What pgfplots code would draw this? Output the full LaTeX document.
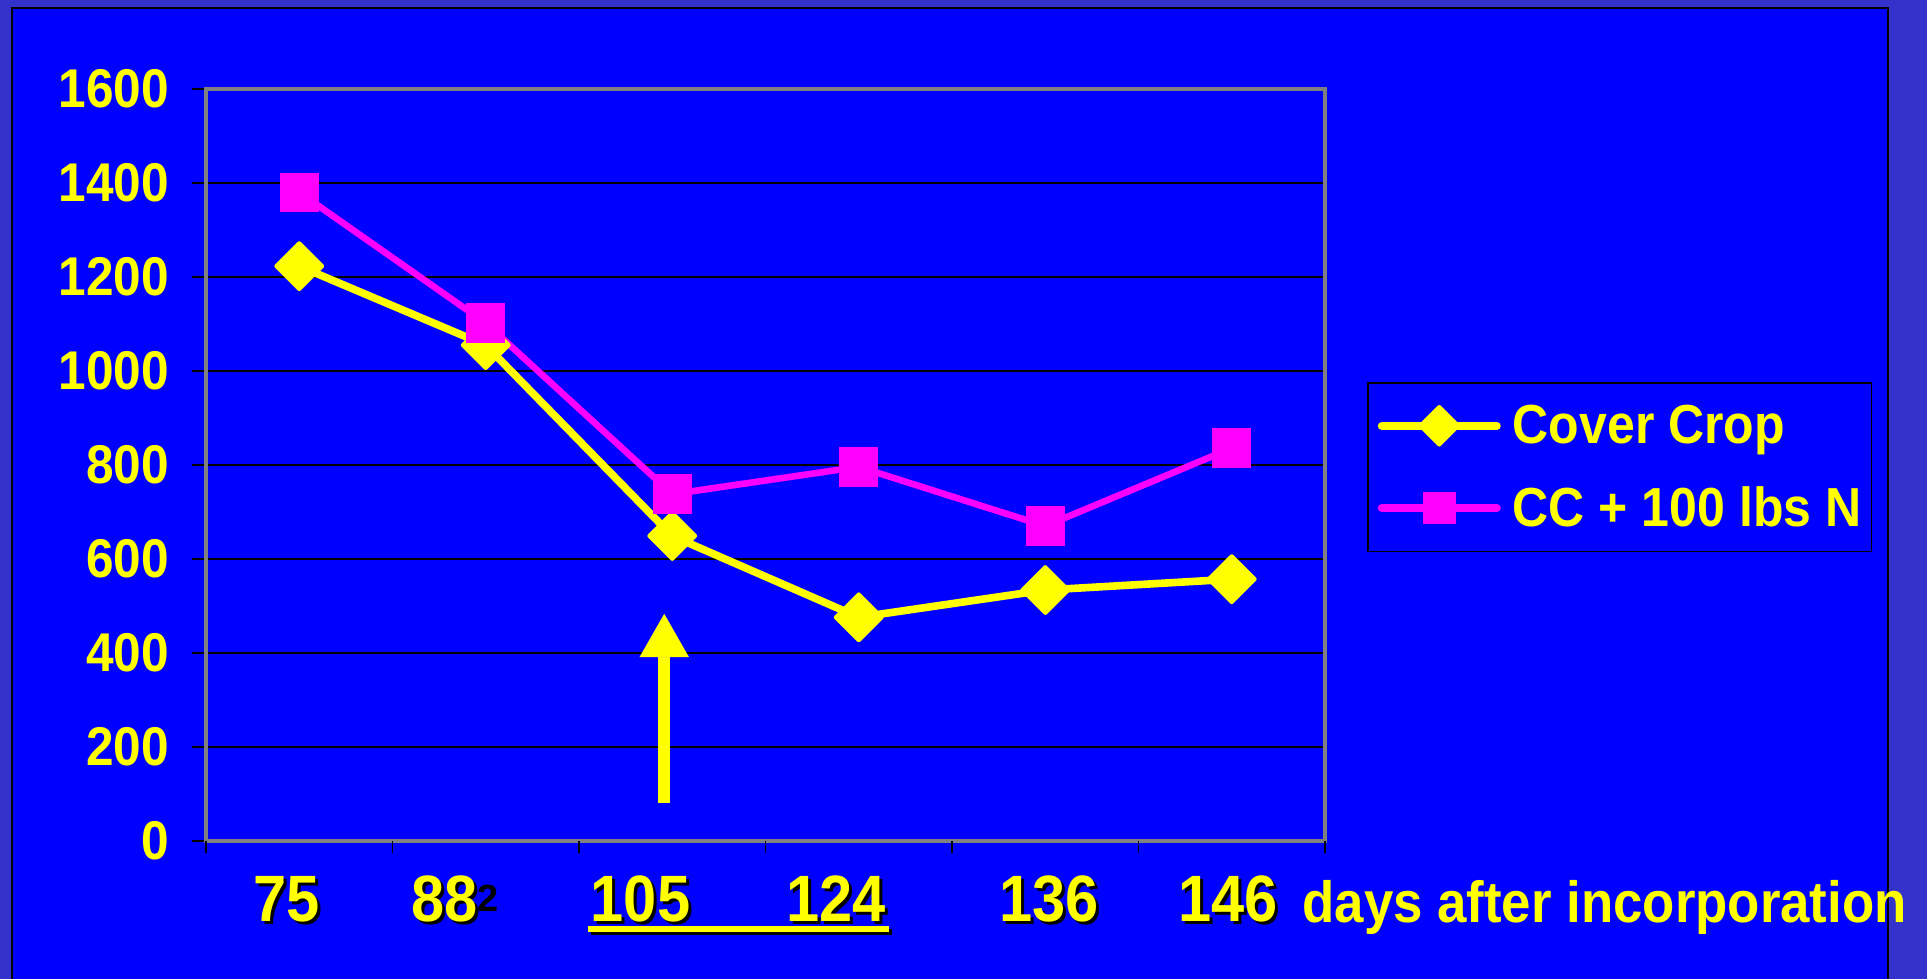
\documentclass[border=0pt]{standalone}
\usepackage{fontspec}
\setmainfont{Liberation Sans}
\usepackage{graphicx}
\usepackage{pgfplots}
\pgfplotsset{compat=1.18}
\usetikzlibrary{arrows.meta}
\definecolor{panelblue}{RGB}{0,0,255}
\definecolor{outerblue}{RGB}{51,51,204}
\definecolor{ylw}{RGB}{255,255,0}
\definecolor{mgt}{RGB}{255,0,255}
\definecolor{framegray}{RGB}{128,128,128}
\newcommand\vs[1]{\scalebox{1}[1.1]{#1}}
\newcommand\sh[1]{\makebox[0pt][l]{\kern1.5pt\raisebox{-1.5pt}{\textcolor{black}{#1}}}#1}
\newcommand\xl[1]{\scalebox{1}[1.1]{\sh{#1}}}
\begin{document}
\begin{tikzpicture}
\path[use as bounding box] (0,0) rectangle (963.5pt,489.5pt);
\fill[outerblue] (0,0) rectangle (963.5pt,489.5pt);
\filldraw[fill=panelblue, draw=black, line width=1pt] (6pt,-10pt) rectangle (944pt,485.5pt);
\begin{axis}[
  at={(103pt,69pt)}, anchor=south west,
  scale only axis, width=559.5pt, height=376pt,
  xmin=-0.5, xmax=5.5, ymin=0, ymax=1600,
  axis background/.style={fill=panelblue},
  axis line style={draw=framegray, line width=1.6pt},
  ytick={0,200,...,1600},
  ytick pos=left, xtick pos=bottom,
  yticklabels={\vs{0},\vs{200},\vs{400},\vs{600},\vs{800},\vs{1000},\vs{1200},\vs{1400},\vs{1600}},
  ymajorgrids, grid style={black, line width=0.7pt},
  xtick={-0.07,0.78,1.83,2.88,4.02,4.98},
  xticklabels={\xl{75},{\xl{88}\rlap{\textcolor{black}{\raisebox{4.5pt}{\fontsize{19pt}{19pt}\selectfont 2}}}},\xl{105},\xl{124},\xl{136},\xl{146}},
  tick align=outside, major tick length=7pt,
  tick style={black, line width=0.6pt},
  xtick style={draw=none},
  yticklabel style={font=\fontsize{24.8pt}{24.8pt}\selectfont\bfseries, text=ylw, xshift=-8pt},
  xticklabel style={font=\fontsize{29.8pt}{29.8pt}\selectfont\bfseries, text=ylw, anchor=base, yshift=-33pt},
  clip=false,
  legend style={at={(axis description cs:1.0375,0.610)}, anchor=north west,
    draw=black, line width=0.8pt, fill=panelblue, text=ylw,
    font=\fontsize{25pt}{25pt}\selectfont\bfseries,
    inner xsep=5pt, inner ysep=11pt, row sep=20pt, column sep=6pt,
    nodes={inner sep=0pt}},
  legend cell align=left,
  legend image code/.code={\draw[mark repeat=2, mark phase=2, #1, line width=4pt, line cap=round, every mark/.append style={scale=0.82}] plot coordinates {(0pt,0pt) (28.75pt,0pt) (57.5pt,0pt)};},
]
\addplot[ylw, line width=3.8pt, mark=square*, mark size=8.1pt, mark options={rotate=45, line width=2pt, line join=round}]
  coordinates {(0,1223) (1,1055) (2,649) (3,476) (4,534) (5,557)};
\addlegendentry{\vs{Cover Crop}}
\addplot[mgt, line width=3.3pt, mark=square*, mark size=9.6pt, mark options={line width=0.5pt}]
  coordinates {(0,1380) (1,1102) (2,738) (3,796) (4,670) (5,836)};
\addlegendentry{\vs{CC + 100 lbs N}}
\foreach \b in {-0.5,0.5,1.5,2.5,3.5,4.5,5.5} {
  \edef\tmp{\noexpand\draw[black, line width=0.6pt] (axis cs:\b,0) -- ([yshift=-6pt]axis cs:\b,0);}\tmp
}
\draw[ylw, line width=6pt, -{Triangle[width=23pt,length=22pt]}] (axis cs:1.957,81) -- (axis cs:1.957,485);
\end{axis}
\fill[black] (295.5pt,22pt) rectangle (446pt,25pt);
\fill[ylw] (294pt,23.5pt) rectangle (444.5pt,26.5pt);
\node[anchor=base west, text=ylw, inner sep=0pt, font=\fontsize{26.4pt}{26.4pt}\selectfont\bfseries] at (651pt,28pt) {\vs{days after incorporation}};
\end{tikzpicture}
\end{document}
